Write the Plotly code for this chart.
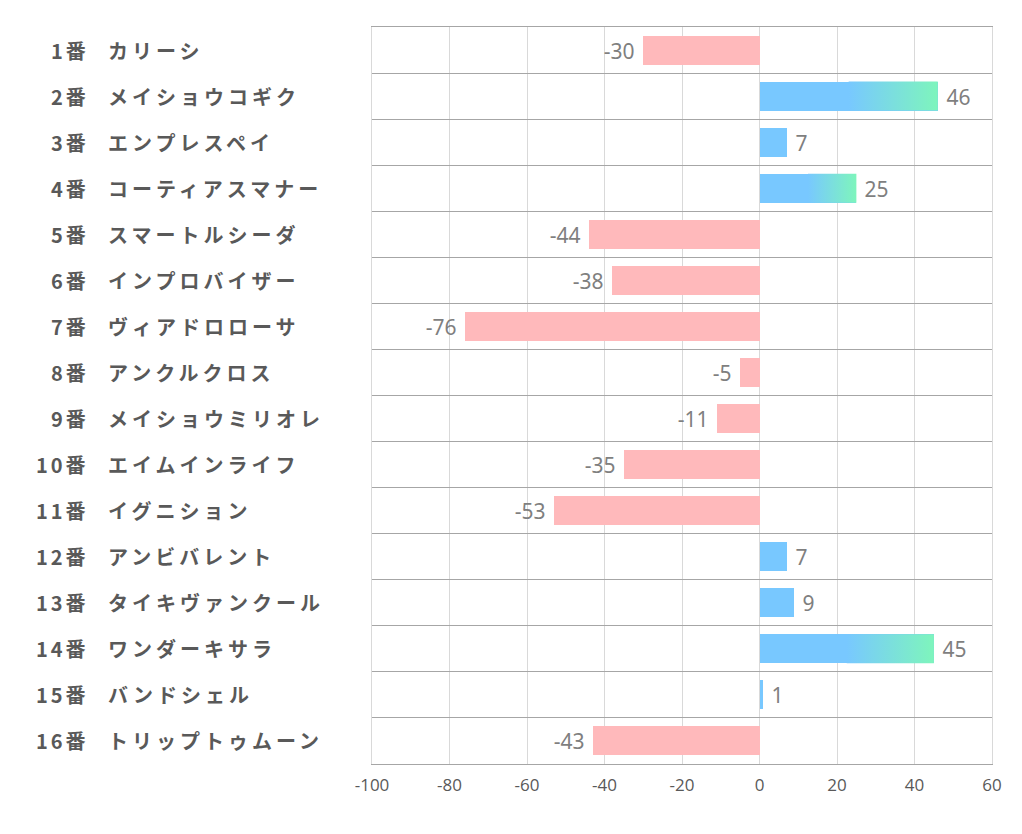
import plotly.graph_objects as go

numbers = ["1番", "2番", "3番", "4番", "5番", "6番", "7番", "8番",
           "9番", "10番", "11番", "12番", "13番", "14番", "15番", "16番"]
names = ["カリーシ", "メイショウコギク", "エンプレスペイ", "コーティアスマナー",
         "スマートルシーダ", "インプロバイザー", "ヴィアドロローサ", "アンクルクロス",
         "メイショウミリオレ", "エイムインライフ", "イグニション", "アンビバレント",
         "タイキヴァンクール", "ワンダーキサラ", "バンドシェル", "トリップトゥムーン"]
values = [-30, 46, 7, 25, -44, -38, -76, -5, -11, -35, -53, 7, 9, 45, 1, -43]
x_ticks = [-100, -80, -60, -40, -20, 0, 20, 40, 60]
x_tick_labels = ["-100", "-80", "-60", "-40", "-20", "0", "20", "40", "60"]

BLUE = "#78C8FF"
GREEN = "#7EF5BC"
PINK = "#FFB9BB"
BAR_W = 0.63
GRAD_MIN = 20
NBSP = "\u00a0"

idx = list(range(len(values)))
colors = [BLUE if v > 0 else PINK for v in values]
labels = [(NBSP + str(v)) if v > 0 else (str(v) + NBSP) for v in values]

fig = go.Figure()
fig.add_trace(go.Bar(
    x=values, y=idx, orientation="h", width=BAR_W,
    marker=dict(color=colors, line=dict(width=0)),
    text=labels, textposition="outside",
    textfont=dict(family="Noto Sans", size=21, color="#7F7F7F"),
    cliponaxis=False, showlegend=False, hoverinfo="skip",
))

# gradient overlays for long positive bars
for i, v in zip(idx, values):
    if v >= GRAD_MIN:
        x0, x1 = v * 0.5, v
        y0, y1 = i - BAR_W / 2, i + BAR_W / 2
        fig.add_trace(go.Scatter(
            x=[x0, x1, x1, x0, x0], y=[y0, y0, y1, y1, y0],
            mode="lines", line=dict(width=0), fill="toself",
            fillgradient=dict(type="horizontal",
                              colorscale=[[0, BLUE], [1, GREEN]]),
            showlegend=False, hoverinfo="skip",
        ))

FW, FH = 1006, 818
L, T, R, B = 364, 19, 15, 62
W = FW - L - R
label_font = dict(family="Noto Sans CJK JP", size=20, color="#595959", weight="bold")
NUM_SPAN = "<span style='letter-spacing:3px'>{}</span>"
NAME_SPAN = "<span style='letter-spacing:4px'>{}</span>"
for i, (n, nm) in enumerate(zip(numbers, names)):
    fig.add_annotation(x=(80 - L) / W, xref="paper", y=i, yref="y",
                       text=NUM_SPAN.format(n), showarrow=False, xanchor="right", font=label_font)
    fig.add_annotation(x=(102 - 7 - L) / W, xref="paper", y=i, yref="y",
                       text=NAME_SPAN.format(nm),
                       showarrow=False, xanchor="left", font=label_font)

fig.update_layout(
    width=FW, height=FH,
    margin=dict(l=L, r=R, t=T, b=B),
    plot_bgcolor="white", paper_bgcolor="white",
    xaxis=dict(range=[-100, 60], tickvals=x_ticks, ticktext=x_tick_labels,
               showgrid=True, gridcolor="#D9D9D9", gridwidth=1, zeroline=False,
               showline=True, mirror=True, linecolor="#A6A6A6", ticks="",
               ticklabelstandoff=6,
               tickfont=dict(family="Open Sans", size=17, color="#595959")),
    yaxis=dict(range=[15.5, -0.5], tickvals=[i - 0.5 for i in range(len(values) + 1)],
               showticklabels=False, showgrid=True, gridcolor="#A6A6A6",
               gridwidth=1, zeroline=False, ticks="",
               showline=True, mirror=True, linecolor="#D9D9D9"),
    bargap=0,
)

fig.write_html("out.html")
